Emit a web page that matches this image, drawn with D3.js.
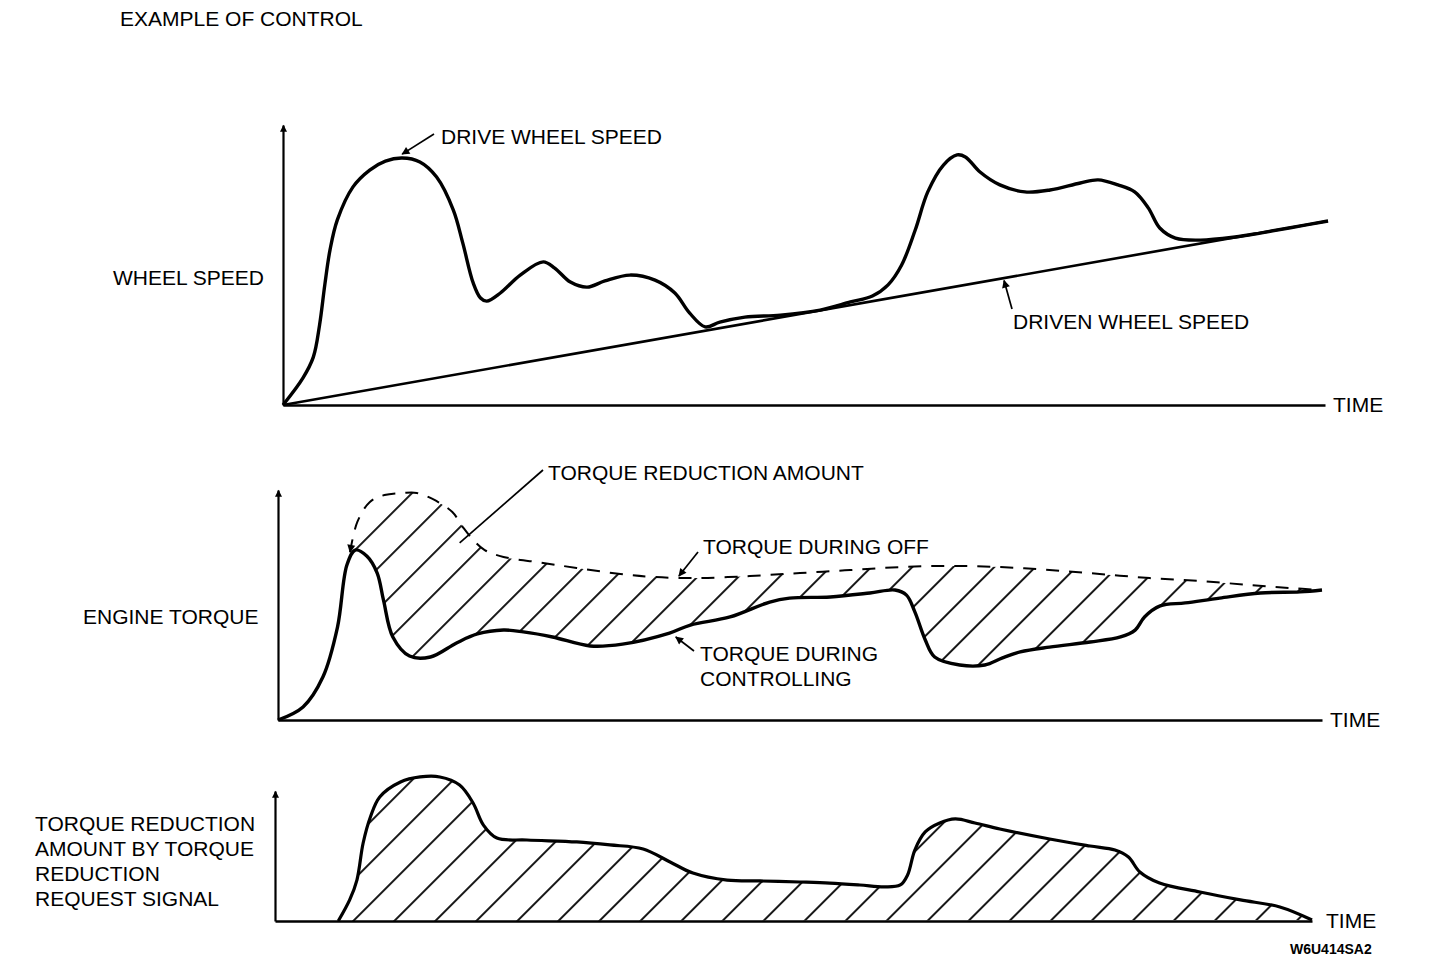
<!DOCTYPE html>
<html>
<head>
<meta charset="utf-8">
<script src="https://cdn.jsdelivr.net/npm/d3@7"></script>
<style>
  body { margin: 0; background: #fff; }
  svg { display: block; }
  text { font-family: "Liberation Sans", Arial, sans-serif; font-size: 21px; fill: #000; }
</style>
</head>
<body>
<div id="chart"></div>
<script>
// time (0-100) and value (0-100ish)

// panel 1 - wheel speed
var driveTime = [0, 1.9, 2.9, 3.5, 4.0, 4.5, 5.2, 6.7, 8.3, 9.8, 11.4, 13.1, 14.7, 16.3, 17.2, 18.2, 18.9, 19.5, 20.8, 22.7, 24.9, 26.0, 27.5, 29.1, 30.8, 33.2, 35.6, 37.5, 38.9, 40.4, 41.8, 44.2, 47.6, 51.4, 54.3, 56.4, 57.9, 59.2, 60.5, 61.7, 63.2, 64.5, 65.3, 66.7, 68.6, 71.0, 73.4, 76.3, 78.0, 79.9, 81.5, 82.8, 83.9, 85.4, 87.8, 91.1, 93.5, 96.4, 100];
var driveSpeed = [0, 9.6, 17.1, 28.6, 42.9, 55.4, 66.1, 77.9, 83.9, 87.1, 88.2, 86.8, 81.4, 69.6, 57.9, 43.6, 38.2, 37.1, 40.0, 46.4, 51.1, 48.9, 43.9, 42.1, 44.3, 46.4, 44.6, 40.0, 32.9, 27.9, 29.6, 31.4, 32.1, 33.9, 36.8, 38.9, 42.9, 50.0, 62.5, 76.1, 85.7, 89.3, 88.6, 83.2, 78.6, 76.1, 76.8, 79.3, 80.4, 78.6, 76.1, 70.4, 63.2, 59.6, 58.9, 60.0, 61.4, 63.3, 65.7];
var drivenTime = [0, 100];
var drivenSpeed = [0, 65.7];

// panel 2 - engine torque
var ctrlTime = [0, 2.4, 4.3, 5.7, 6.6, 7.4, 8.5, 9.5, 10.1, 11.0, 12.6, 14.6, 17.1, 19.1, 21.6, 23.5, 26.3, 29.9, 33.0, 37.5, 39.5, 43.3, 47.1, 49.0, 52.9, 56.7, 59.1, 60.2, 61.0, 62.0, 62.9, 65.3, 67.7, 69.4, 71.1, 73.9, 77.8, 80.7, 82.1, 83.0, 84.5, 86.9, 90.2, 94.1, 97.9, 100];
var ctrlTorque = [0, 5.7, 18.7, 40.4, 67.4, 73.9, 71.3, 63.9, 52.2, 36.1, 27.8, 27.4, 33.5, 37.4, 39.1, 38.3, 36.1, 32.2, 33.0, 37.8, 41.3, 44.8, 51.3, 53.0, 53.5, 55.2, 56.5, 54.3, 47.0, 34.8, 27.4, 23.9, 23.9, 27.0, 29.6, 31.7, 33.9, 36.1, 39.1, 44.8, 49.6, 50.9, 53.0, 55.2, 55.7, 56.5];
var offTime = [6.9, 7.6, 8.8, 10.2, 12.0, 13.3, 14.8, 16.7, 17.7, 18.7, 19.8, 21.6, 25.4, 28.6, 32.8, 35.9, 40.1, 45.2, 50.0, 54.8, 59.6, 64.4, 69.2, 73.9, 78.7, 83.5, 88.3, 93.1, 96.9, 100];
var offTorque = [73.0, 86.1, 94.8, 97.8, 98.7, 98.7, 96.1, 90.4, 83.9, 78.3, 73.9, 70.9, 68.3, 66.1, 63.5, 62.2, 61.7, 62.6, 63.9, 65.2, 66.5, 67.0, 66.5, 65.2, 63.5, 61.7, 60.4, 58.7, 57.4, 56.5];

// panel 3 - torque reduction request signal
var reqTime = [6.1, 7.2, 7.9, 8.5, 9.2, 10.1, 12.1, 14.0, 15.9, 17.8, 19.1, 20.1, 21.4, 24.3, 29.1, 32.3, 35.5, 38.1, 40.3, 43.6, 46.8, 50.6, 53.5, 56.4, 58.8, 60.3, 61.0, 61.7, 62.7, 64.1, 65.6, 67.5, 69.9, 74.7, 78.6, 81.0, 82.3, 83.4, 85.3, 89.2, 93.1, 96.9, 100];
var reqAmount = [0, 16.2, 31.5, 60.0, 80.0, 95.4, 106.9, 110.8, 110.8, 104.6, 90.8, 73.8, 63.8, 62.3, 60.8, 58.5, 55.4, 45.4, 36.9, 31.5, 30.8, 30.0, 29.2, 27.7, 26.2, 27.7, 35.4, 54.6, 68.5, 75.4, 78.5, 75.4, 70.8, 63.1, 57.7, 54.6, 49.2, 37.7, 29.2, 22.3, 16.2, 10.8, 0.8];

function zip(ts, vs) { return ts.map(function(t, i) { return [t, vs[i]]; }); }

var width = 1456, height = 962;

var svg = d3.select("#chart").append("svg")
    .attr("width", width)
    .attr("height", height);

svg.append("rect").attr("width", width).attr("height", height).attr("fill", "#fff");

var defs = svg.append("defs");

// arrow heads
defs.append("marker")
    .attr("id", "arrow")
    .attr("viewBox", "0 0 10 10")
    .attr("refX", 9).attr("refY", 5)
    .attr("markerWidth", 13).attr("markerHeight", 8)
    .attr("markerUnits", "userSpaceOnUse")
    .attr("orient", "auto-start-reverse")
    .append("path").attr("d", "M0,0L10,5L0,10Z").attr("fill", "#000");

defs.append("marker")
    .attr("id", "axisArrow")
    .attr("viewBox", "0 0 10 10")
    .attr("refX", 9).attr("refY", 5)
    .attr("markerWidth", 15).attr("markerHeight", 7)
    .attr("markerUnits", "userSpaceOnUse")
    .attr("orient", "auto")
    .append("path").attr("d", "M0,0L10,5L0,10Z").attr("fill", "#000");

// hatching
var hatch = defs.append("pattern")
    .attr("id", "hatch")
    .attr("patternUnits", "userSpaceOnUse")
    .attr("width", 29).attr("height", 29)
    .attr("patternTransform", "rotate(45)");
hatch.append("line")
    .attr("x1", 2).attr("y1", 0).attr("x2", 2).attr("y2", 29)
    .attr("stroke", "#000").attr("stroke-width", 1.8);

// panel setup
function panel(x0, x1, yBase, yTop) {
    var x = d3.scaleLinear().domain([0, 100]).range([x0, x1]);
    var y = d3.scaleLinear().domain([0, 100]).range([yBase, yTop]);
    var g = svg.append("g");

    g.append("g")
        .attr("transform", "translate(0," + yBase + ")")
        .call(d3.axisBottom(x).tickValues([]).tickSizeOuter(0))
        .select(".domain").attr("stroke-width", 2.6);

    g.append("g")
        .attr("transform", "translate(" + x0 + ",0)")
        .call(d3.axisLeft(y).tickValues([]).tickSizeOuter(0))
        .select(".domain").attr("stroke-width", 2.2).attr("marker-end", "url(#axisArrow)");

    var line = d3.line()
        .x(function(d) { return x(d[0]); })
        .y(function(d) { return y(d[1]); })
        .curve(d3.curveCatmullRom.alpha(0.5));

    return { x: x, y: y, g: g, line: line };
}

function label(txt, px, py, opts) {
    var t = svg.append("text").attr("x", px).attr("y", py).text(txt);
    if (opts && opts.size) t.style("font-size", opts.size + "px");
    if (opts && opts.bold) t.style("font-weight", "bold");
    return t;
}

function leader(p, x1, y1, t, v, arrow) {
    var l = svg.append("line")
        .attr("x1", x1).attr("y1", y1)
        .attr("x2", p.x(t)).attr("y2", p.y(v))
        .attr("stroke", "#000").attr("stroke-width", 1.7);
    if (arrow) l.attr("marker-end", "url(#arrow)");
}

label("EXAMPLE OF CONTROL", 120, 26);

// ---- panel 1
var p1 = panel(283, 1325, 405, 125);
p1.x.range([283, 1328]);

p1.g.append("path")
    .attr("d", p1.line(zip(drivenTime, drivenSpeed)))
    .attr("fill", "none").attr("stroke", "#000").attr("stroke-width", 2.6);

p1.g.append("path")
    .attr("d", p1.line(zip(driveTime, driveSpeed)))
    .attr("fill", "none").attr("stroke", "#000").attr("stroke-width", 3.4)
    .attr("stroke-linejoin", "round");

label("WHEEL SPEED", 113, 285);
label("TIME", 1333, 412);
label("DRIVE WHEEL SPEED", 441, 144);
leader(p1, 434, 134, 11.4, 89.6, true);
label("DRIVEN WHEEL SPEED", 1013, 329);
leader(p1, 1012, 309, 69.0, 44.5, true);

// ---- panel 2
var p2 = panel(278, 1322, 720, 490);

var ctrlPts = zip(ctrlTime, ctrlTorque);
var offPts = zip(offTime, offTorque);

// hatched region between the two torque curves
var lower = ctrlPts.filter(function(d) { return d[0] >= 6.9; }).reverse();
var region = p2.line(offPts) + "L" + p2.line(lower).slice(1) + "Z";
p2.g.append("path").attr("d", region).attr("fill", "url(#hatch)").attr("stroke", "none");

p2.g.append("path")
    .attr("d", p2.line(offPts))
    .attr("fill", "none").attr("stroke", "#000").attr("stroke-width", 2)
    .attr("stroke-dasharray", "13,10")
    .attr("marker-start", "url(#arrow)");

p2.g.append("path")
    .attr("d", p2.line(ctrlPts))
    .attr("fill", "none").attr("stroke", "#000").attr("stroke-width", 3.4)
    .attr("stroke-linejoin", "round");

label("ENGINE TORQUE", 83, 624);
label("TIME", 1330, 727);
label("TORQUE REDUCTION AMOUNT", 548, 480);
leader(p2, 543, 470, 17.4, 77, false);
label("TORQUE DURING OFF", 703, 554);
leader(p2, 698, 552, 38.4, 62.6, true);
label("TORQUE DURING", 700, 661);
label("CONTROLLING", 700, 686);
leader(p2, 694, 651, 38.1, 36.1, true);

// ---- panel 3
var p3 = panel(275, 1312, 921, 791);

var reqPts = zip(reqTime, reqAmount);
var reqArea = p3.line(reqPts) + "L" + p3.x(reqTime[0]) + "," + p3.y(0) + "Z";
p3.g.append("path").attr("d", reqArea).attr("fill", "url(#hatch)").attr("stroke", "none");

p3.g.append("path")
    .attr("d", p3.line(reqPts))
    .attr("fill", "none").attr("stroke", "#000").attr("stroke-width", 3.2)
    .attr("stroke-linejoin", "round");

label("TORQUE REDUCTION", 35, 831);
label("AMOUNT BY TORQUE", 35, 856);
label("REDUCTION", 35, 881);
label("REQUEST SIGNAL", 35, 906);
label("TIME", 1326, 928);
label("W6U414SA2", 1290, 954, { size: 14, bold: true });
</script>
</body>
</html>
